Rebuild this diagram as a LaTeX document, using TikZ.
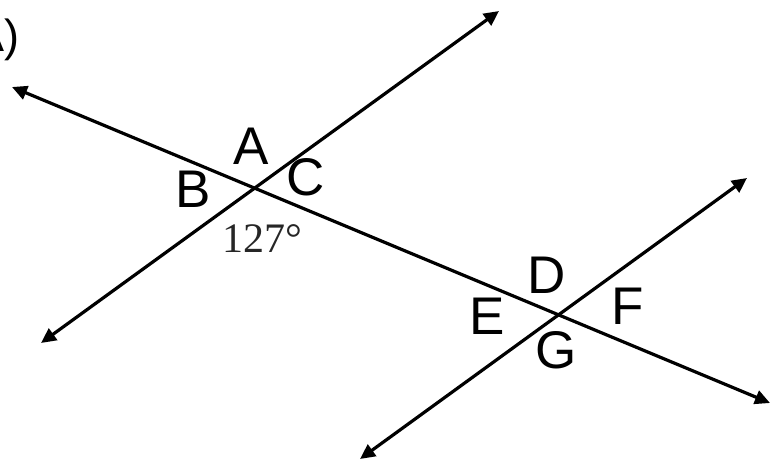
\documentclass[tikz,border=0pt]{standalone}
\usepackage{fontspec}
\setmainfont{Liberation Sans}
\newfontfamily\degfont{Liberation Serif}
\usetikzlibrary{arrows.meta}
\begin{document}
\begin{tikzpicture}[x=1pt,y=-1pt,
  ray/.style={line width=3.2pt,{Triangle[length=15pt,width=14pt]}-{Triangle[length=15pt,width=14pt]}},
  lbl/.style={inner sep=0pt,font=\fontsize{53}{53}\selectfont},
  ang/.style={inner sep=0pt,text=black!85,font=\degfont\fontsize{42}{42}\selectfont}]
\useasboundingbox (0,0) rectangle (771,461);
\clip (0,0) rectangle (771,461);
% endpoints
\coordinate (t1) at (12,87);
\coordinate (t2) at (770,403);
\coordinate (p1) at (41,343);
\coordinate (p2) at (499,11);
\coordinate (q1) at (360,459);
\coordinate (q2) at (747,178);
\draw[ray] (t1) -- (t2);
\draw[ray] (p1) -- (p2);
\draw[ray] (q1) -- (q2);
% labels
\node[lbl] (lA) at (251,146) {A};
\node[lbl] (lB) at (193,189) {B};
\node[lbl] (lC) at (306,177) {C};
\node[ang,anchor=base] (deg) at (262,252) {127°};
\node[lbl] (lD) at (547,275) {D};
\node[lbl] (lE) at (487,316) {E};
\node[lbl] (lF) at (628,306) {F};
\node[lbl] (lG) at (556,350) {G};
\node[inner sep=0pt,anchor=base east,font=\fontsize{45}{45}\selectfont] (part) at (20,51) {A)};
\end{tikzpicture}
\end{document}
